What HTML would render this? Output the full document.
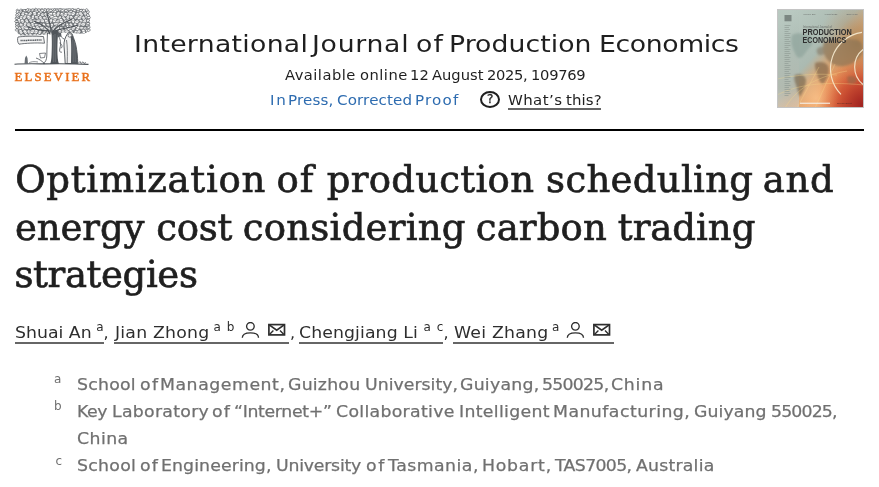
<!DOCTYPE html>
<html lang="en">
<head>
<meta charset="utf-8">
<title>Optimization of production scheduling and energy cost considering carbon trading strategies</title>
<style>
:root{--sans:"DejaVu Sans","Liberation Sans",sans-serif;--serif:"DejaVu Serif","Liberation Serif",serif}
*{margin:0;padding:0;box-sizing:border-box}
html,body{width:879px;height:487px;overflow:hidden;background:#fff}
body{position:relative;font-family:var(--sans);color:#1f1f1f}
.abs{position:absolute;white-space:nowrap}
#logo{left:12px;top:6px}
#elsevier{left:14.6px;top:70px;font-family:"Liberation Serif",serif;font-size:12.8px;color:#e9711c;letter-spacing:2.15px;line-height:14px;-webkit-text-stroke:0.5px #e9711c}
#qmark{left:480px;top:90.5px;width:20px;height:17px;border:2px solid #1f1f1f;border-radius:50%;font-size:12px;line-height:13.4px;text-align:center;text-indent:0.5px;-webkit-text-stroke:0.3px #1f1f1f}
#wu{left:508px;top:108px;width:93px;height:1.6px;background:#666}
#hr{left:15px;top:129px;width:849px;height:2px;background:#000}
.ul{top:342px;height:2px;background:#666}
.ic{top:322px}
[id^="t1_"],[id^="t2_"],[id^="t3_"]{-webkit-text-stroke:0.7px #1f1f1f}
[id^="a1_"],[id^="a2_"],[id^="a3_"],[id^="a4_"]{-webkit-text-stroke:0.25px #707070}
</style>
</head>
<body>
<svg id="logo" class="abs" viewBox="0 0 80 64" width="80" height="64"><defs><clipPath id="cc"><path d="M4.5 24 C3 19 3 13 4 8 C4.5 5 7 3.5 10 3.2 C16 2.6 24 2.8 32 2.6 C44 2.4 56 2.5 66 2.7 C72 2.8 76 4 77 8 C78 13 78 19 77 24 C76 27 72 28 67 27.5 C61 27 55 26.5 50 27 C46 27.5 43 26 40 26.5 C36 27.5 33 29 29 29 C22 29.2 14 29.5 9 29.5 C6.5 29 5 27 4.5 24 Z"/></clipPath></defs><g clip-path="url(#cc)"><path d="M4.5 24 C3 19 3 13 4 8 C4.5 5 7 3.5 10 3.2 C16 2.6 24 2.8 32 2.6 C44 2.4 56 2.5 66 2.7 C72 2.8 76 4 77 8 C78 13 78 19 77 24 C76 27 72 28 67 27.5 C61 27 55 26.5 50 27 C46 27.5 43 26 40 26.5 C36 27.5 33 29 29 29 C22 29.2 14 29.5 9 29.5 C6.5 29 5 27 4.5 24 Z" fill="#7c8085"/><g fill="#fafafa" stroke="#4a4f54" stroke-width="0.5"><ellipse cx="4.9" cy="4.7" rx="2.8" ry="1.7" transform="rotate(1 4.9 4.7)"/><path d="M3.3 4.7 L6.3 4.8" stroke-width="0.35"/><ellipse cx="8.5" cy="4.6" rx="2.6" ry="1.8" transform="rotate(-57 8.5 4.6)"/><path d="M6.9 4.6 L9.7 4.4" stroke-width="0.35"/><ellipse cx="12.2" cy="5.0" rx="2.6" ry="1.5" transform="rotate(68 12.2 5.0)"/><path d="M10.7 5.0 L13.5 5.4" stroke-width="0.35"/><ellipse cx="16.9" cy="4.7" rx="2.3" ry="1.5" transform="rotate(4 16.9 4.7)"/><path d="M15.5 4.7 L18.1 4.3" stroke-width="0.35"/><ellipse cx="20.2" cy="4.3" rx="2.2" ry="1.7" transform="rotate(-8 20.2 4.3)"/><path d="M18.8 4.3 L21.3 4.6" stroke-width="0.35"/><ellipse cx="24.5" cy="4.8" rx="2.5" ry="1.8" transform="rotate(-6 24.5 4.8)"/><path d="M23.0 4.8 L25.8 4.5" stroke-width="0.35"/><ellipse cx="29.1" cy="5.2" rx="2.7" ry="1.8" transform="rotate(-26 29.1 5.2)"/><path d="M27.5 5.2 L30.4 4.9" stroke-width="0.35"/><ellipse cx="32.0" cy="4.1" rx="2.7" ry="1.7" transform="rotate(49 32.0 4.1)"/><path d="M30.4 4.1 L33.3 4.0" stroke-width="0.35"/><ellipse cx="36.8" cy="5.0" rx="2.2" ry="1.6" transform="rotate(57 36.8 5.0)"/><path d="M35.5 5.0 L37.9 5.0" stroke-width="0.35"/><ellipse cx="40.8" cy="4.5" rx="2.2" ry="1.8" transform="rotate(39 40.8 4.5)"/><path d="M39.4 4.5 L41.9 4.2" stroke-width="0.35"/><ellipse cx="43.4" cy="4.4" rx="2.8" ry="1.8" transform="rotate(-53 43.4 4.4)"/><path d="M41.8 4.4 L44.8 4.1" stroke-width="0.35"/><ellipse cx="47.3" cy="4.1" rx="2.7" ry="1.6" transform="rotate(8 47.3 4.1)"/><path d="M45.7 4.1 L48.7 4.0" stroke-width="0.35"/><ellipse cx="51.4" cy="4.9" rx="2.3" ry="1.8" transform="rotate(-54 51.4 4.9)"/><path d="M50.0 4.9 L52.5 4.8" stroke-width="0.35"/><ellipse cx="55.3" cy="4.3" rx="2.8" ry="1.8" transform="rotate(-27 55.3 4.3)"/><path d="M53.6 4.3 L56.7 4.7" stroke-width="0.35"/><ellipse cx="59.2" cy="4.5" rx="2.7" ry="1.8" transform="rotate(-56 59.2 4.5)"/><path d="M57.6 4.5 L60.6 5.0" stroke-width="0.35"/><ellipse cx="63.1" cy="4.3" rx="2.7" ry="1.6" transform="rotate(-29 63.1 4.3)"/><path d="M61.5 4.3 L64.4 3.9" stroke-width="0.35"/><ellipse cx="66.8" cy="4.7" rx="2.3" ry="1.7" transform="rotate(-18 66.8 4.7)"/><path d="M65.4 4.7 L68.0 4.7" stroke-width="0.35"/><ellipse cx="71.9" cy="4.6" rx="2.5" ry="1.8" transform="rotate(-44 71.9 4.6)"/><path d="M70.4 4.6 L73.2 4.2" stroke-width="0.35"/><ellipse cx="75.8" cy="5.0" rx="2.3" ry="1.6" transform="rotate(34 75.8 5.0)"/><path d="M74.4 5.0 L76.9 5.4" stroke-width="0.35"/><ellipse cx="78.7" cy="5.1" rx="2.7" ry="1.7" transform="rotate(-11 78.7 5.1)"/><path d="M77.0 5.1 L80.0 4.7" stroke-width="0.35"/><ellipse cx="6.3" cy="8.7" rx="2.3" ry="1.8" transform="rotate(-34 6.3 8.7)"/><path d="M4.9 8.7 L7.5 9.0" stroke-width="0.35"/><ellipse cx="11.0" cy="7.9" rx="2.3" ry="1.8" transform="rotate(-60 11.0 7.9)"/><path d="M9.6 7.9 L12.1 7.6" stroke-width="0.35"/><ellipse cx="14.8" cy="8.6" rx="2.6" ry="1.6" transform="rotate(58 14.8 8.6)"/><path d="M13.3 8.6 L16.1 8.3" stroke-width="0.35"/><ellipse cx="18.0" cy="7.9" rx="2.5" ry="1.5" transform="rotate(-45 18.0 7.9)"/><path d="M16.5 7.9 L19.2 7.7" stroke-width="0.35"/><ellipse cx="22.7" cy="7.7" rx="2.4" ry="1.9" transform="rotate(67 22.7 7.7)"/><path d="M21.2 7.7 L23.9 7.9" stroke-width="0.35"/><ellipse cx="26.7" cy="8.3" rx="2.3" ry="1.5" transform="rotate(-67 26.7 8.3)"/><path d="M25.3 8.3 L27.9 8.7" stroke-width="0.35"/><ellipse cx="30.6" cy="8.7" rx="2.2" ry="1.8" transform="rotate(-2 30.6 8.7)"/><path d="M29.3 8.7 L31.7 8.9" stroke-width="0.35"/><ellipse cx="34.0" cy="8.7" rx="2.2" ry="1.7" transform="rotate(33 34.0 8.7)"/><path d="M32.6 8.7 L35.1 9.1" stroke-width="0.35"/><ellipse cx="38.5" cy="8.4" rx="2.7" ry="1.9" transform="rotate(-21 38.5 8.4)"/><path d="M36.9 8.4 L39.8 8.6" stroke-width="0.35"/><ellipse cx="42.6" cy="8.6" rx="2.5" ry="1.8" transform="rotate(51 42.6 8.6)"/><path d="M41.1 8.6 L43.8 8.7" stroke-width="0.35"/><ellipse cx="46.1" cy="8.0" rx="2.5" ry="1.7" transform="rotate(-59 46.1 8.0)"/><path d="M44.6 8.0 L47.4 8.1" stroke-width="0.35"/><ellipse cx="50.5" cy="8.6" rx="2.6" ry="1.7" transform="rotate(33 50.5 8.6)"/><path d="M49.0 8.6 L51.9 8.7" stroke-width="0.35"/><ellipse cx="53.7" cy="8.6" rx="2.3" ry="1.8" transform="rotate(-66 53.7 8.6)"/><path d="M52.3 8.6 L54.8 8.7" stroke-width="0.35"/><ellipse cx="57.6" cy="7.8" rx="2.6" ry="1.7" transform="rotate(16 57.6 7.8)"/><path d="M56.1 7.8 L58.9 8.2" stroke-width="0.35"/><ellipse cx="61.2" cy="7.6" rx="2.4" ry="1.8" transform="rotate(-42 61.2 7.6)"/><path d="M59.8 7.6 L62.4 7.2" stroke-width="0.35"/><ellipse cx="66.0" cy="8.3" rx="2.5" ry="1.9" transform="rotate(-24 66.0 8.3)"/><path d="M64.5 8.3 L67.3 8.5" stroke-width="0.35"/><ellipse cx="68.9" cy="8.1" rx="2.7" ry="1.9" transform="rotate(53 68.9 8.1)"/><path d="M67.3 8.1 L70.3 8.0" stroke-width="0.35"/><ellipse cx="73.4" cy="7.9" rx="2.3" ry="1.7" transform="rotate(47 73.4 7.9)"/><path d="M72.0 7.9 L74.5 8.3" stroke-width="0.35"/><ellipse cx="77.4" cy="8.7" rx="2.4" ry="1.6" transform="rotate(-7 77.4 8.7)"/><path d="M76.0 8.7 L78.6 8.5" stroke-width="0.35"/><ellipse cx="80.6" cy="8.0" rx="2.6" ry="1.7" transform="rotate(-26 80.6 8.0)"/><path d="M79.1 8.0 L81.9 8.4" stroke-width="0.35"/><ellipse cx="5.7" cy="11.6" rx="2.2" ry="1.5" transform="rotate(52 5.7 11.6)"/><path d="M4.3 11.6 L6.8 11.2" stroke-width="0.35"/><ellipse cx="9.2" cy="11.8" rx="2.4" ry="1.8" transform="rotate(-67 9.2 11.8)"/><path d="M7.8 11.8 L10.4 11.4" stroke-width="0.35"/><ellipse cx="12.7" cy="11.1" rx="2.7" ry="1.6" transform="rotate(-50 12.7 11.1)"/><path d="M11.1 11.1 L14.1 10.7" stroke-width="0.35"/><ellipse cx="16.9" cy="11.6" rx="2.6" ry="1.8" transform="rotate(43 16.9 11.6)"/><path d="M15.3 11.6 L18.2 12.1" stroke-width="0.35"/><ellipse cx="20.9" cy="11.3" rx="2.5" ry="1.6" transform="rotate(-68 20.9 11.3)"/><path d="M19.4 11.3 L22.1 11.3" stroke-width="0.35"/><ellipse cx="24.8" cy="11.3" rx="2.4" ry="1.6" transform="rotate(28 24.8 11.3)"/><path d="M23.4 11.3 L26.0 11.3" stroke-width="0.35"/><ellipse cx="28.6" cy="12.0" rx="2.4" ry="1.8" transform="rotate(57 28.6 12.0)"/><path d="M27.1 12.0 L29.8 11.6" stroke-width="0.35"/><ellipse cx="32.9" cy="12.0" rx="2.3" ry="1.7" transform="rotate(18 32.9 12.0)"/><path d="M31.5 12.0 L34.0 12.4" stroke-width="0.35"/><ellipse cx="36.0" cy="11.8" rx="2.7" ry="1.8" transform="rotate(62 36.0 11.8)"/><path d="M34.4 11.8 L37.4 11.7" stroke-width="0.35"/><ellipse cx="40.3" cy="11.3" rx="2.6" ry="1.8" transform="rotate(20 40.3 11.3)"/><path d="M38.7 11.3 L41.6 11.6" stroke-width="0.35"/><ellipse cx="43.6" cy="12.2" rx="2.8" ry="1.9" transform="rotate(5 43.6 12.2)"/><path d="M41.9 12.2 L45.0 12.5" stroke-width="0.35"/><ellipse cx="47.6" cy="12.2" rx="2.7" ry="1.6" transform="rotate(-58 47.6 12.2)"/><path d="M46.0 12.2 L49.0 12.1" stroke-width="0.35"/><ellipse cx="51.9" cy="12.0" rx="2.5" ry="1.5" transform="rotate(43 51.9 12.0)"/><path d="M50.4 12.0 L53.1 11.6" stroke-width="0.35"/><ellipse cx="56.1" cy="11.3" rx="2.4" ry="1.8" transform="rotate(-50 56.1 11.3)"/><path d="M54.7 11.3 L57.3 11.0" stroke-width="0.35"/><ellipse cx="59.6" cy="12.0" rx="2.7" ry="1.8" transform="rotate(62 59.6 12.0)"/><path d="M58.0 12.0 L61.0 12.0" stroke-width="0.35"/><ellipse cx="64.1" cy="11.2" rx="2.3" ry="1.7" transform="rotate(-29 64.1 11.2)"/><path d="M62.7 11.2 L65.3 11.4" stroke-width="0.35"/><ellipse cx="67.6" cy="11.7" rx="2.7" ry="1.7" transform="rotate(-26 67.6 11.7)"/><path d="M66.0 11.7 L68.9 11.6" stroke-width="0.35"/><ellipse cx="71.8" cy="12.2" rx="2.3" ry="1.8" transform="rotate(66 71.8 12.2)"/><path d="M70.4 12.2 L72.9 12.2" stroke-width="0.35"/><ellipse cx="75.3" cy="11.3" rx="2.5" ry="1.7" transform="rotate(15 75.3 11.3)"/><path d="M73.8 11.3 L76.6 10.9" stroke-width="0.35"/><ellipse cx="79.8" cy="11.7" rx="2.4" ry="1.8" transform="rotate(9 79.8 11.7)"/><path d="M78.3 11.7 L81.0 11.7" stroke-width="0.35"/><ellipse cx="7.2" cy="14.7" rx="2.5" ry="1.7" transform="rotate(64 7.2 14.7)"/><path d="M5.7 14.7 L8.5 15.2" stroke-width="0.35"/><ellipse cx="10.5" cy="15.2" rx="2.3" ry="1.7" transform="rotate(44 10.5 15.2)"/><path d="M9.2 15.2 L11.7 15.6" stroke-width="0.35"/><ellipse cx="14.7" cy="15.0" rx="2.3" ry="1.7" transform="rotate(60 14.7 15.0)"/><path d="M13.3 15.0 L15.9 14.7" stroke-width="0.35"/><ellipse cx="19.0" cy="14.7" rx="2.3" ry="1.6" transform="rotate(26 19.0 14.7)"/><path d="M17.7 14.7 L20.2 14.5" stroke-width="0.35"/><ellipse cx="22.3" cy="15.4" rx="2.3" ry="1.8" transform="rotate(-53 22.3 15.4)"/><path d="M21.0 15.4 L23.5 15.4" stroke-width="0.35"/><ellipse cx="26.1" cy="14.9" rx="2.5" ry="1.7" transform="rotate(-17 26.1 14.9)"/><path d="M24.6 14.9 L27.4 14.8" stroke-width="0.35"/><ellipse cx="30.4" cy="14.8" rx="2.3" ry="1.8" transform="rotate(19 30.4 14.8)"/><path d="M29.0 14.8 L31.6 14.9" stroke-width="0.35"/><ellipse cx="34.7" cy="15.4" rx="2.7" ry="1.6" transform="rotate(34 34.7 15.4)"/><path d="M33.1 15.4 L36.1 15.7" stroke-width="0.35"/><ellipse cx="38.7" cy="15.0" rx="2.4" ry="1.9" transform="rotate(-39 38.7 15.0)"/><path d="M37.3 15.0 L39.9 15.5" stroke-width="0.35"/><ellipse cx="42.6" cy="14.8" rx="2.3" ry="1.8" transform="rotate(-34 42.6 14.8)"/><path d="M41.2 14.8 L43.8 14.4" stroke-width="0.35"/><ellipse cx="46.4" cy="15.2" rx="2.7" ry="1.6" transform="rotate(-14 46.4 15.2)"/><path d="M44.8 15.2 L47.8 15.3" stroke-width="0.35"/><ellipse cx="49.2" cy="14.9" rx="2.6" ry="1.9" transform="rotate(66 49.2 14.9)"/><path d="M47.6 14.9 L50.5 14.5" stroke-width="0.35"/><ellipse cx="53.8" cy="15.6" rx="2.5" ry="1.8" transform="rotate(-44 53.8 15.6)"/><path d="M52.3 15.6 L55.0 15.1" stroke-width="0.35"/><ellipse cx="57.1" cy="14.7" rx="2.5" ry="1.7" transform="rotate(10 57.1 14.7)"/><path d="M55.6 14.7 L58.4 14.3" stroke-width="0.35"/><ellipse cx="61.1" cy="14.9" rx="2.7" ry="1.9" transform="rotate(60 61.1 14.9)"/><path d="M59.5 14.9 L62.5 14.5" stroke-width="0.35"/><ellipse cx="64.8" cy="15.8" rx="2.5" ry="1.8" transform="rotate(-24 64.8 15.8)"/><path d="M63.4 15.8 L66.1 15.8" stroke-width="0.35"/><ellipse cx="69.4" cy="15.2" rx="2.6" ry="1.5" transform="rotate(28 69.4 15.2)"/><path d="M67.8 15.2 L70.7 15.5" stroke-width="0.35"/><ellipse cx="72.8" cy="15.2" rx="2.6" ry="1.7" transform="rotate(-43 72.8 15.2)"/><path d="M71.2 15.2 L74.1 14.9" stroke-width="0.35"/><ellipse cx="77.2" cy="14.7" rx="2.7" ry="1.8" transform="rotate(29 77.2 14.7)"/><path d="M75.5 14.7 L78.5 15.0" stroke-width="0.35"/><ellipse cx="81.2" cy="15.1" rx="2.6" ry="1.7" transform="rotate(68 81.2 15.1)"/><path d="M79.7 15.1 L82.5 15.4" stroke-width="0.35"/><ellipse cx="4.7" cy="19.3" rx="2.6" ry="1.8" transform="rotate(44 4.7 19.3)"/><path d="M3.1 19.3 L6.0 19.2" stroke-width="0.35"/><ellipse cx="9.5" cy="19.3" rx="2.6" ry="1.8" transform="rotate(37 9.5 19.3)"/><path d="M7.9 19.3 L10.8 19.2" stroke-width="0.35"/><ellipse cx="13.1" cy="18.3" rx="2.4" ry="1.7" transform="rotate(-69 13.1 18.3)"/><path d="M11.7 18.3 L14.3 18.1" stroke-width="0.35"/><ellipse cx="16.9" cy="18.9" rx="2.3" ry="1.9" transform="rotate(23 16.9 18.9)"/><path d="M15.5 18.9 L18.1 18.8" stroke-width="0.35"/><ellipse cx="20.8" cy="18.9" rx="2.5" ry="1.7" transform="rotate(70 20.8 18.9)"/><path d="M19.3 18.9 L22.1 19.0" stroke-width="0.35"/><ellipse cx="24.8" cy="19.1" rx="2.8" ry="1.5" transform="rotate(16 24.8 19.1)"/><path d="M23.1 19.1 L26.2 19.4" stroke-width="0.35"/><ellipse cx="28.1" cy="18.7" rx="2.2" ry="1.6" transform="rotate(-17 28.1 18.7)"/><path d="M26.7 18.7 L29.2 18.3" stroke-width="0.35"/><ellipse cx="32.0" cy="19.3" rx="2.5" ry="1.7" transform="rotate(65 32.0 19.3)"/><path d="M30.4 19.3 L33.2 19.4" stroke-width="0.35"/><ellipse cx="36.9" cy="19.0" rx="2.7" ry="1.5" transform="rotate(14 36.9 19.0)"/><path d="M35.3 19.0 L38.2 19.2" stroke-width="0.35"/><ellipse cx="39.5" cy="19.3" rx="2.3" ry="1.7" transform="rotate(-46 39.5 19.3)"/><path d="M38.1 19.3 L40.6 19.3" stroke-width="0.35"/><ellipse cx="44.2" cy="18.3" rx="2.8" ry="1.7" transform="rotate(4 44.2 18.3)"/><path d="M42.5 18.3 L45.5 18.4" stroke-width="0.35"/><ellipse cx="47.7" cy="18.5" rx="2.6" ry="1.7" transform="rotate(-30 47.7 18.5)"/><path d="M46.2 18.5 L49.0 18.8" stroke-width="0.35"/><ellipse cx="51.5" cy="18.2" rx="2.3" ry="1.5" transform="rotate(-48 51.5 18.2)"/><path d="M50.1 18.2 L52.7 18.5" stroke-width="0.35"/><ellipse cx="55.5" cy="19.3" rx="2.6" ry="1.5" transform="rotate(68 55.5 19.3)"/><path d="M54.0 19.3 L56.9 19.7" stroke-width="0.35"/><ellipse cx="59.0" cy="19.3" rx="2.5" ry="1.7" transform="rotate(66 59.0 19.3)"/><path d="M57.5 19.3 L60.2 19.0" stroke-width="0.35"/><ellipse cx="63.5" cy="19.3" rx="2.6" ry="1.7" transform="rotate(67 63.5 19.3)"/><path d="M62.0 19.3 L64.8 19.6" stroke-width="0.35"/><ellipse cx="67.5" cy="18.3" rx="2.6" ry="1.7" transform="rotate(-41 67.5 18.3)"/><path d="M66.0 18.3 L68.8 17.9" stroke-width="0.35"/><ellipse cx="71.3" cy="18.3" rx="2.5" ry="1.8" transform="rotate(-6 71.3 18.3)"/><path d="M69.9 18.3 L72.6 18.1" stroke-width="0.35"/><ellipse cx="75.3" cy="18.7" rx="2.7" ry="1.7" transform="rotate(70 75.3 18.7)"/><path d="M73.7 18.7 L76.6 19.2" stroke-width="0.35"/><ellipse cx="79.4" cy="18.5" rx="2.3" ry="1.9" transform="rotate(40 79.4 18.5)"/><path d="M78.1 18.5 L80.6 18.6" stroke-width="0.35"/><ellipse cx="6.8" cy="22.1" rx="2.6" ry="1.7" transform="rotate(13 6.8 22.1)"/><path d="M5.2 22.1 L8.1 22.2" stroke-width="0.35"/><ellipse cx="11.2" cy="22.0" rx="2.3" ry="1.9" transform="rotate(58 11.2 22.0)"/><path d="M9.8 22.0 L12.4 22.4" stroke-width="0.35"/><ellipse cx="14.1" cy="21.8" rx="2.4" ry="1.7" transform="rotate(17 14.1 21.8)"/><path d="M12.7 21.8 L15.3 21.4" stroke-width="0.35"/><ellipse cx="18.7" cy="21.8" rx="2.3" ry="1.8" transform="rotate(7 18.7 21.8)"/><path d="M17.4 21.8 L19.8 22.0" stroke-width="0.35"/><ellipse cx="22.4" cy="22.3" rx="2.3" ry="1.6" transform="rotate(34 22.4 22.3)"/><path d="M21.0 22.3 L23.5 22.7" stroke-width="0.35"/><ellipse cx="25.9" cy="21.9" rx="2.7" ry="1.7" transform="rotate(38 25.9 21.9)"/><path d="M24.2 21.9 L27.2 21.6" stroke-width="0.35"/><ellipse cx="30.2" cy="22.1" rx="2.7" ry="1.6" transform="rotate(22 30.2 22.1)"/><path d="M28.6 22.1 L31.6 22.5" stroke-width="0.35"/><ellipse cx="34.0" cy="22.4" rx="2.6" ry="1.9" transform="rotate(-10 34.0 22.4)"/><path d="M32.4 22.4 L35.3 22.3" stroke-width="0.35"/><ellipse cx="37.6" cy="22.8" rx="2.2" ry="1.5" transform="rotate(9 37.6 22.8)"/><path d="M36.2 22.8 L38.7 22.8" stroke-width="0.35"/><ellipse cx="42.3" cy="22.1" rx="2.7" ry="1.5" transform="rotate(-40 42.3 22.1)"/><path d="M40.7 22.1 L43.6 22.3" stroke-width="0.35"/><ellipse cx="45.4" cy="22.1" rx="2.6" ry="1.8" transform="rotate(-30 45.4 22.1)"/><path d="M43.8 22.1 L46.7 21.8" stroke-width="0.35"/><ellipse cx="49.7" cy="22.6" rx="2.4" ry="1.5" transform="rotate(29 49.7 22.6)"/><path d="M48.2 22.6 L50.9 22.7" stroke-width="0.35"/><ellipse cx="54.3" cy="22.9" rx="2.7" ry="1.7" transform="rotate(42 54.3 22.9)"/><path d="M52.7 22.9 L55.7 22.7" stroke-width="0.35"/><ellipse cx="57.4" cy="22.2" rx="2.8" ry="1.9" transform="rotate(-35 57.4 22.2)"/><path d="M55.7 22.2 L58.8 22.1" stroke-width="0.35"/><ellipse cx="61.4" cy="22.2" rx="2.4" ry="1.7" transform="rotate(-43 61.4 22.2)"/><path d="M59.9 22.2 L62.6 22.2" stroke-width="0.35"/><ellipse cx="65.9" cy="22.4" rx="2.7" ry="1.7" transform="rotate(-45 65.9 22.4)"/><path d="M64.2 22.4 L67.2 22.7" stroke-width="0.35"/><ellipse cx="69.9" cy="22.1" rx="2.2" ry="1.7" transform="rotate(6 69.9 22.1)"/><path d="M68.6 22.1 L71.0 22.2" stroke-width="0.35"/><ellipse cx="73.9" cy="22.5" rx="2.7" ry="1.5" transform="rotate(7 73.9 22.5)"/><path d="M72.3 22.5 L75.2 22.8" stroke-width="0.35"/><ellipse cx="76.6" cy="21.8" rx="2.6" ry="1.9" transform="rotate(-58 76.6 21.8)"/><path d="M75.0 21.8 L77.9 22.0" stroke-width="0.35"/><ellipse cx="80.6" cy="22.6" rx="2.6" ry="1.6" transform="rotate(-39 80.6 22.6)"/><path d="M79.0 22.6 L81.8 22.9" stroke-width="0.35"/><ellipse cx="5.0" cy="26.2" rx="2.4" ry="1.6" transform="rotate(66 5.0 26.2)"/><path d="M3.6 26.2 L6.2 26.4" stroke-width="0.35"/><ellipse cx="8.9" cy="25.9" rx="2.6" ry="1.8" transform="rotate(58 8.9 25.9)"/><path d="M7.3 25.9 L10.2 25.9" stroke-width="0.35"/><ellipse cx="13.3" cy="26.1" rx="2.7" ry="1.8" transform="rotate(47 13.3 26.1)"/><path d="M11.6 26.1 L14.6 26.5" stroke-width="0.35"/><ellipse cx="17.3" cy="26.1" rx="2.5" ry="1.8" transform="rotate(42 17.3 26.1)"/><path d="M15.8 26.1 L18.6 26.0" stroke-width="0.35"/><ellipse cx="20.5" cy="25.5" rx="2.6" ry="1.9" transform="rotate(-17 20.5 25.5)"/><path d="M18.9 25.5 L21.8 25.1" stroke-width="0.35"/><ellipse cx="24.1" cy="25.8" rx="2.4" ry="1.9" transform="rotate(-62 24.1 25.8)"/><path d="M22.7 25.8 L25.3 25.6" stroke-width="0.35"/><ellipse cx="27.9" cy="26.1" rx="2.7" ry="1.6" transform="rotate(-61 27.9 26.1)"/><path d="M26.3 26.1 L29.2 26.0" stroke-width="0.35"/><ellipse cx="32.4" cy="26.4" rx="2.2" ry="1.5" transform="rotate(-44 32.4 26.4)"/><path d="M31.1 26.4 L33.5 26.1" stroke-width="0.35"/><ellipse cx="35.8" cy="26.2" rx="2.6" ry="1.6" transform="rotate(-44 35.8 26.2)"/><path d="M34.3 26.2 L37.1 25.9" stroke-width="0.35"/><ellipse cx="39.6" cy="26.2" rx="2.4" ry="1.7" transform="rotate(44 39.6 26.2)"/><path d="M38.2 26.2 L40.8 26.2" stroke-width="0.35"/><ellipse cx="43.7" cy="26.4" rx="2.7" ry="1.6" transform="rotate(7 43.7 26.4)"/><path d="M42.0 26.4 L45.0 26.8" stroke-width="0.35"/><ellipse cx="47.9" cy="25.6" rx="2.2" ry="1.9" transform="rotate(42 47.9 25.6)"/><path d="M46.5 25.6 L49.0 25.5" stroke-width="0.35"/><ellipse cx="51.8" cy="25.9" rx="2.4" ry="1.9" transform="rotate(22 51.8 25.9)"/><path d="M50.4 25.9 L53.0 25.7" stroke-width="0.35"/><ellipse cx="55.0" cy="25.9" rx="2.4" ry="1.8" transform="rotate(30 55.0 25.9)"/><path d="M53.6 25.9 L56.2 26.0" stroke-width="0.35"/><ellipse cx="59.1" cy="25.5" rx="2.4" ry="1.6" transform="rotate(52 59.1 25.5)"/><path d="M57.7 25.5 L60.3 25.5" stroke-width="0.35"/><ellipse cx="63.7" cy="26.5" rx="2.4" ry="1.7" transform="rotate(-49 63.7 26.5)"/><path d="M62.3 26.5 L64.9 26.8" stroke-width="0.35"/><ellipse cx="66.7" cy="26.3" rx="2.7" ry="1.8" transform="rotate(-58 66.7 26.3)"/><path d="M65.1 26.3 L68.1 26.1" stroke-width="0.35"/><ellipse cx="71.6" cy="25.4" rx="2.5" ry="1.7" transform="rotate(64 71.6 25.4)"/><path d="M70.1 25.4 L72.8 25.5" stroke-width="0.35"/><ellipse cx="75.7" cy="25.7" rx="2.7" ry="1.7" transform="rotate(58 75.7 25.7)"/><path d="M74.1 25.7 L77.0 25.3" stroke-width="0.35"/><ellipse cx="79.6" cy="25.6" rx="2.5" ry="1.7" transform="rotate(-48 79.6 25.6)"/><path d="M78.0 25.6 L80.8 25.9" stroke-width="0.35"/><ellipse cx="6.7" cy="29.2" rx="2.2" ry="1.6" transform="rotate(-5 6.7 29.2)"/><path d="M5.3 29.2 L7.8 29.4" stroke-width="0.35"/><ellipse cx="10.7" cy="29.7" rx="2.3" ry="1.7" transform="rotate(-5 10.7 29.7)"/><path d="M9.3 29.7 L11.8 30.1" stroke-width="0.35"/><ellipse cx="15.2" cy="29.6" rx="2.2" ry="1.7" transform="rotate(29 15.2 29.6)"/><path d="M13.9 29.6 L16.3 29.4" stroke-width="0.35"/><ellipse cx="18.7" cy="29.4" rx="2.2" ry="1.9" transform="rotate(42 18.7 29.4)"/><path d="M17.4 29.4 L19.8 29.1" stroke-width="0.35"/><ellipse cx="22.7" cy="29.2" rx="2.4" ry="1.7" transform="rotate(-28 22.7 29.2)"/><path d="M21.3 29.2 L23.9 29.0" stroke-width="0.35"/><ellipse cx="26.3" cy="29.7" rx="2.4" ry="1.6" transform="rotate(32 26.3 29.7)"/><path d="M24.9 29.7 L27.5 29.5" stroke-width="0.35"/><ellipse cx="31.0" cy="29.5" rx="2.6" ry="1.6" transform="rotate(46 31.0 29.5)"/><path d="M29.4 29.5 L32.3 29.1" stroke-width="0.35"/><ellipse cx="33.7" cy="29.0" rx="2.6" ry="1.8" transform="rotate(-45 33.7 29.0)"/><path d="M32.2 29.0 L35.1 28.9" stroke-width="0.35"/><ellipse cx="38.6" cy="29.6" rx="2.3" ry="1.6" transform="rotate(-48 38.6 29.6)"/><path d="M37.3 29.6 L39.7 29.2" stroke-width="0.35"/><ellipse cx="41.9" cy="28.9" rx="2.8" ry="1.7" transform="rotate(2 41.9 28.9)"/><path d="M40.3 28.9 L43.3 29.1" stroke-width="0.35"/><ellipse cx="46.3" cy="29.8" rx="2.4" ry="1.6" transform="rotate(-12 46.3 29.8)"/><path d="M44.9 29.8 L47.5 29.4" stroke-width="0.35"/><ellipse cx="49.7" cy="29.7" rx="2.8" ry="1.8" transform="rotate(22 49.7 29.7)"/><path d="M48.0 29.7 L51.1 29.8" stroke-width="0.35"/><ellipse cx="53.1" cy="29.2" rx="2.4" ry="1.8" transform="rotate(-55 53.1 29.2)"/><path d="M51.6 29.2 L54.3 29.1" stroke-width="0.35"/><ellipse cx="57.7" cy="29.8" rx="2.7" ry="1.7" transform="rotate(-48 57.7 29.8)"/><path d="M56.0 29.8 L59.0 30.1" stroke-width="0.35"/><ellipse cx="62.1" cy="29.5" rx="2.4" ry="1.7" transform="rotate(-50 62.1 29.5)"/><path d="M60.7 29.5 L63.3 29.7" stroke-width="0.35"/><ellipse cx="66.1" cy="29.5" rx="2.6" ry="1.8" transform="rotate(-42 66.1 29.5)"/><path d="M64.6 29.5 L67.4 29.9" stroke-width="0.35"/><ellipse cx="69.5" cy="29.1" rx="2.2" ry="1.6" transform="rotate(11 69.5 29.1)"/><path d="M68.2 29.1 L70.7 29.3" stroke-width="0.35"/><ellipse cx="73.0" cy="30.0" rx="2.4" ry="1.7" transform="rotate(-53 73.0 30.0)"/><path d="M71.6 30.0 L74.2 30.4" stroke-width="0.35"/><ellipse cx="76.6" cy="29.9" rx="2.5" ry="1.7" transform="rotate(8 76.6 29.9)"/><path d="M75.1 29.9 L77.9 29.7" stroke-width="0.35"/><ellipse cx="81.6" cy="30.0" rx="2.7" ry="1.7" transform="rotate(-53 81.6 30.0)"/><path d="M80.0 30.0 L83.0 30.4" stroke-width="0.35"/></g></g><g fill="#fafafa" stroke="#4a4f54" stroke-width="0.55"><ellipse cx="5.7" cy="4.5" rx="1.5" ry="1.1" transform="rotate(33 5.7 4.5)"/><ellipse cx="8.6" cy="4.1" rx="1.4" ry="0.9" transform="rotate(-32 8.6 4.1)"/><ellipse cx="12.6" cy="4.5" rx="1.7" ry="1.0" transform="rotate(17 12.6 4.5)"/><ellipse cx="15.3" cy="4.0" rx="1.7" ry="1.1" transform="rotate(-48 15.3 4.0)"/><ellipse cx="17.6" cy="4.1" rx="1.5" ry="1.0" transform="rotate(7 17.6 4.1)"/><ellipse cx="20.6" cy="4.1" rx="1.5" ry="1.1" transform="rotate(-17 20.6 4.1)"/><ellipse cx="24.2" cy="3.6" rx="1.7" ry="0.9" transform="rotate(46 24.2 3.6)"/><ellipse cx="27.1" cy="4.1" rx="1.6" ry="1.1" transform="rotate(19 27.1 4.1)"/><ellipse cx="30.3" cy="4.4" rx="1.6" ry="1.2" transform="rotate(34 30.3 4.4)"/><ellipse cx="33.4" cy="4.0" rx="1.6" ry="1.1" transform="rotate(41 33.4 4.0)"/><ellipse cx="36.0" cy="4.1" rx="1.6" ry="1.2" transform="rotate(-18 36.0 4.1)"/><ellipse cx="38.5" cy="4.3" rx="1.9" ry="1.1" transform="rotate(10 38.5 4.3)"/><ellipse cx="42.3" cy="3.9" rx="1.7" ry="0.9" transform="rotate(-38 42.3 3.9)"/><ellipse cx="44.9" cy="4.1" rx="1.6" ry="0.9" transform="rotate(19 44.9 4.1)"/><ellipse cx="48.0" cy="3.8" rx="1.6" ry="1.0" transform="rotate(-26 48.0 3.8)"/><ellipse cx="50.5" cy="4.5" rx="1.9" ry="1.1" transform="rotate(37 50.5 4.5)"/><ellipse cx="53.9" cy="4.4" rx="1.5" ry="1.1" transform="rotate(7 53.9 4.4)"/><ellipse cx="57.5" cy="3.7" rx="1.8" ry="0.9" transform="rotate(4 57.5 3.7)"/><ellipse cx="60.5" cy="3.6" rx="1.5" ry="1.0" transform="rotate(-18 60.5 3.6)"/><ellipse cx="62.5" cy="4.5" rx="1.8" ry="1.0" transform="rotate(-14 62.5 4.5)"/><ellipse cx="66.1" cy="3.6" rx="1.4" ry="1.2" transform="rotate(-19 66.1 3.6)"/><ellipse cx="69.0" cy="4.5" rx="1.9" ry="1.0" transform="rotate(-29 69.0 4.5)"/><ellipse cx="71.8" cy="4.5" rx="1.8" ry="1.0" transform="rotate(34 71.8 4.5)"/><ellipse cx="74.8" cy="4.1" rx="1.5" ry="1.2" transform="rotate(50 74.8 4.1)"/><ellipse cx="76.0" cy="6.1" rx="1.5" ry="1.2" transform="rotate(-45 76.0 6.1)"/><ellipse cx="75.9" cy="9.2" rx="1.6" ry="1.2" transform="rotate(37 75.9 9.2)"/><ellipse cx="76.7" cy="11.6" rx="1.7" ry="1.2" transform="rotate(-5 76.7 11.6)"/><ellipse cx="75.9" cy="14.7" rx="1.6" ry="1.1" transform="rotate(-30 75.9 14.7)"/><ellipse cx="76.0" cy="17.7" rx="1.7" ry="1.1" transform="rotate(-13 76.0 17.7)"/><ellipse cx="76.6" cy="21.4" rx="1.7" ry="1.0" transform="rotate(-20 76.6 21.4)"/><ellipse cx="76.9" cy="24.2" rx="1.5" ry="1.1" transform="rotate(-41 76.9 24.2)"/><ellipse cx="5.5" cy="5.9" rx="1.7" ry="1.1" transform="rotate(-45 5.5 5.9)"/><ellipse cx="5.0" cy="8.8" rx="1.5" ry="1.1" transform="rotate(-41 5.0 8.8)"/><ellipse cx="4.6" cy="12.3" rx="1.5" ry="1.0" transform="rotate(5 4.6 12.3)"/><ellipse cx="4.5" cy="15.4" rx="1.9" ry="0.9" transform="rotate(-4 4.5 15.4)"/><ellipse cx="5.2" cy="17.9" rx="1.9" ry="1.0" transform="rotate(-32 5.2 17.9)"/><ellipse cx="5.0" cy="21.1" rx="1.6" ry="1.1" transform="rotate(28 5.0 21.1)"/><ellipse cx="4.9" cy="24.0" rx="1.8" ry="1.1" transform="rotate(2 4.9 24.0)"/></g><g fill="none" stroke="#4a4f54" stroke-width="1.1" stroke-linecap="round"><path d="M38 28 C36 22 30 18 22 15"/><path d="M40 27 C44 20 52 17 60 13"/><path d="M39 26 C39 20 37 14 35 8"/><path d="M43 25 C50 22 58 22 66 19"/><path d="M37 25 C31 25 25 24 16 21"/></g><path d="M6 31 C11 30.3 22 29.8 31.5 30.6 L32.5 37.2 C24 36.6 13 37.2 7 38.2 C5.3 36 5.2 33 6 31 Z" fill="#f4f4f4" stroke="#4a4f54" stroke-width="0.8"/><path d="M8.5 34.6 L30 33.9" stroke="#5a5f64" stroke-width="1.5" stroke-dasharray="1.3 0.5"/><path d="M35.5 27 C35.2 33 35 42 34.8 50 C34.6 54 33.5 56 31 58" fill="none" stroke="#4a4f54" stroke-width="0.8"/><path d="M39.2 24.5 C40 30 40 40 39.6 48 C39.4 53 39 56 38.2 58 L47 58 C45.8 55 45.4 50 45.4 44 C45.5 36 45.6 30 46.5 25 Z" fill="#50555a"/><path d="M41.2 29 L41.4 56 M43 28 L43.3 56" stroke="#8a8f94" stroke-width="0.45"/><path d="M35.5 27 C37 27.5 38.5 26 39.2 24.5" fill="none" stroke="#4e5358" stroke-width="0.8"/><g fill="none" stroke="#4a4f54" stroke-width="0.8"><path d="M46 30 C49 33 49 38 48 42 C47 45 48 47 50 46"/><path d="M47.5 37 C50 38 51 41 48.8 42.5"/><path d="M54 34 C51.5 33 49.5 31.5 48 29"/></g><path d="M45.5 26.5 L49 26.5 L49.5 30.5 L46 31 Z" fill="#5a5f64"/><path d="M56 27 C58 25.8 60.3 26.8 60.6 29.3 C61.5 32 62.8 35 63.8 39 C65 45 65.6 51 65.8 57.5 L53.2 57.5 C53 52 52.5 46 52 40 C51.6 36 53 31 56 27 Z" fill="#f2f2f2" stroke="#4a4f54" stroke-width="0.9"/><path d="M58.6 30.5 C59.4 36 59.3 45 59 57.5 L65.8 57.5 C65.6 51 65 45 63.8 39 C62.8 35 61.5 32 60.6 29.3 Z" fill="#53585d"/><path d="M60.8 34 L61.3 56 M62.6 36 L63.3 56" stroke="#8a8f94" stroke-width="0.4"/><path d="M54.5 34 C55.5 40 55.5 48 55.2 57" fill="none" stroke="#4a4f54" stroke-width="0.7"/><circle cx="57.8" cy="29.4" r="1.8" fill="#f2f2f2" stroke="#4a4f54" stroke-width="0.7"/><path d="M2.5 58.2 C12 57.6 22 57.8 32 57.9 C46 57.7 60 57.6 76.5 58.4" fill="none" stroke="#4a4f54" stroke-width="1.1"/><path d="M33 58 C30 55 27 53 24 52" fill="none" stroke="#4a4f54" stroke-width="0.8"/><path d="M12.5 58 L13 52 L14.3 49.5 L15.5 52 L16 58 Z" fill="#6a6f74"/><path d="M17 57 C19 55.5 22 55.3 26 56" fill="none" stroke="#4a4f54" stroke-width="0.6"/><path d="M27.5 47.5 L33.5 47 L32.5 51.5 L28.5 52 Z" fill="#fff" stroke="#4a4f54" stroke-width="0.7"/><path d="M66 57.5 L68 55.5 L69 57.5 L71 55.8 L72 57.5 L74 56.5" fill="none" stroke="#4a4f54" stroke-width="0.7"/></svg>
<div id="elsevier" class="abs">ELSEVIER</div>
<div id="qmark" class="abs">?</div>
<div id="wu" class="abs"></div>
<div id="cover" class="abs" style="left:777px;top:9px;width:87px;height:99px"><svg width="87" height="99" viewBox="0 0 87 99" style="position:absolute;left:0;top:0">
<defs>
<linearGradient id="cg" x1="0.05" y1="0.15" x2="0.85" y2="1"><stop offset="0" stop-color="#b9c9c1"/><stop offset="0.42" stop-color="#abbab1"/><stop offset="0.55" stop-color="#cfa77c"/><stop offset="0.7" stop-color="#eb9a5d"/><stop offset="0.86" stop-color="#e27a45"/><stop offset="1" stop-color="#c24a30"/></linearGradient>
<radialGradient id="cr" cx="0.97" cy="0.97" r="0.5">
<stop offset="0" stop-color="#a02420" stop-opacity="1"/><stop offset="0.55" stop-color="#c8442e" stop-opacity="0.65"/><stop offset="1" stop-color="#e07040" stop-opacity="0"/>
</radialGradient>
<radialGradient id="ct" cx="0.92" cy="0.35" r="0.45">
<stop offset="0" stop-color="#a8804f" stop-opacity="0.9"/><stop offset="1" stop-color="#c8a07a" stop-opacity="0"/>
</radialGradient>
<radialGradient id="cl" cx="0.45" cy="0.9" r="0.3">
<stop offset="0" stop-color="#f8c48e" stop-opacity="0.8"/><stop offset="1" stop-color="#f8c48e" stop-opacity="0"/>
</radialGradient>
<linearGradient id="cvlb" x1="0" y1="0" x2="0" y2="1"><stop offset="0" stop-color="#b5c4bc" stop-opacity="0"/><stop offset="0.35" stop-color="#aebdb5" stop-opacity="0.7"/><stop offset="0.8" stop-color="#b4bab0" stop-opacity="0.75"/><stop offset="1" stop-color="#d8cdbf" stop-opacity="0.6"/></linearGradient>
<filter id="bl" x="-20%" y="-20%" width="140%" height="140%"><feGaussianBlur stdDeviation="1.0"/></filter>
<filter id="bl2" x="-20%" y="-20%" width="140%" height="140%"><feGaussianBlur stdDeviation="0.35"/></filter>
</defs>
<rect width="87" height="99" fill="url(#cg)"/>
<rect width="87" height="99" fill="url(#ct)"/>
<rect width="87" height="99" fill="url(#cl)"/>
<rect width="87" height="99" fill="url(#cr)"/>
<rect x="0" y="0" width="22" height="99" fill="url(#cvlb)"/>
<g filter="url(#bl)" opacity="0.7">
<path d="M15 26 C20 23 27 24 33 27 C37 30 36 35 33 38 C30 41 28 45 25 48 C22 50 19 48 18 44 C16 40 13 34 15 26 Z" fill="#8fa49c"/>
<path d="M30 20 C33 19 37 20 38 23 C36 26 32 26 30 24 Z" fill="#9aaba4"/>
<path d="M18 66 C23 64 28 66 29 71 C29 77 26 83 23 88 C21 84 20 78 18 73 C17 70 17 68 18 66 Z" fill="#7e6b50"/>
<path d="M38 54 C43 52 49 53 51 57 C53 62 51 68 48 73 C46 76 44 75 42 71 C40 66 39 61 38 58 Z" fill="#86694b"/>
<path d="M40 40 C43 37 47 37 49 40 C49 44 46 47 42 46 C40 45 39 42 40 40 Z" fill="#8a8270"/>
<path d="M47 33 C56 29 68 29 80 31 C86 33 87 40 84 46 C80 52 74 56 67 57 C60 58 54 55 50 50 C46 45 45 38 47 33 Z" fill="#8f7656"/>
<path d="M70 68 C74 66 79 67 80 71 C79 75 74 76 71 74 Z" fill="#9a6a48"/>
</g>
<g fill="none" stroke="#f7ecd2" stroke-width="1.15" opacity="0.9" filter="url(#bl2)">
<path d="M85 23.4 A36.6 36.6 0 0 0 64 85.3"/>
<path d="M86 40.5 A22.5 22.5 0 0 0 86 75.5"/>
</g>
<g fill="none" stroke="#f6d98c" stroke-width="0.6" opacity="0.55" filter="url(#bl2)">
<path d="M8 99 C18 82 36 68 70 62"/>
<path d="M0 86 C20 76 44 72 87 76"/>
<path d="M38 99 L58 55"/>
<path d="M20 99 L42 58"/>
<path d="M0 70 C20 66 40 64 60 66"/>
</g>
<g fill="#8a9690" opacity="0.8">
<rect x="7.5" y="6" width="7" height="6.3" fill="#6d7773"/>
<rect x="7.5" y="16" width="6" height="0.7"/><rect x="7.5" y="18" width="4.5" height="0.7"/><rect x="7.5" y="20" width="5.5" height="0.7"/><rect x="7.5" y="22" width="4" height="0.7"/><rect x="7.5" y="24" width="6" height="0.7"/><rect x="7.5" y="26" width="5" height="0.7"/><rect x="7.5" y="28" width="6" height="0.7"/><rect x="7.5" y="30" width="4.5" height="0.7"/><rect x="7.5" y="32" width="6" height="0.7"/><rect x="7.5" y="34" width="5" height="0.7"/><rect x="7.5" y="36" width="6" height="0.7"/><rect x="7.5" y="38" width="4" height="0.7"/><rect x="7.5" y="40" width="6" height="0.7"/><rect x="7.5" y="42" width="5" height="0.7"/><rect x="7.5" y="44" width="6" height="0.7"/><rect x="7.5" y="46" width="4.5" height="0.7"/><rect x="7.5" y="48" width="6" height="0.7"/><rect x="7.5" y="50" width="5" height="0.7"/><rect x="7.5" y="52" width="6" height="0.7"/><rect x="7.5" y="54" width="4" height="0.7"/><rect x="7.5" y="56" width="6" height="0.7"/><rect x="7.5" y="58" width="5" height="0.7"/><rect x="7.5" y="60" width="6" height="0.7"/><rect x="7.5" y="62" width="4.5" height="0.7"/><rect x="7.5" y="64" width="6" height="0.7"/><rect x="7.5" y="66" width="5" height="0.7"/><rect x="7.5" y="68" width="6" height="0.7"/><rect x="7.5" y="70" width="4" height="0.7"/><rect x="7.5" y="72" width="6" height="0.7"/><rect x="7.5" y="74" width="5" height="0.7"/><rect x="7.5" y="76" width="6" height="0.7"/><rect x="7.5" y="78" width="4.5" height="0.7"/><rect x="7.5" y="80" width="6" height="0.7"/><rect x="7.5" y="82" width="5" height="0.7"/><rect x="7.5" y="84" width="6" height="0.7"/><rect x="7.5" y="86" width="4" height="0.7"/>
</g>
<g font-family="Liberation Sans, sans-serif" fill="#6b6f6c" font-size="2.4">
<text x="26" y="6.2">Volume 287</text><text x="47" y="6.2">August 2025</text><text x="69" y="6.2">ISSN 0925</text>
<text x="26" y="18.6" font-size="3" textLength="29" lengthAdjust="spacingAndGlyphs">International Journal of</text>
</g>
<g font-family="Liberation Sans, sans-serif" font-weight="bold" fill="#2f2f2f">
<text x="25.6" y="26" font-size="8.2" textLength="49.2" lengthAdjust="spacingAndGlyphs">PRODUCTION</text>
<text x="25.6" y="33.8" font-size="8.2" textLength="43.7" lengthAdjust="spacingAndGlyphs">ECONOMICS</text>
</g>
<g font-family="Liberation Sans, sans-serif" font-size="2.2">
<rect x="23" y="93.6" width="30" height="1.4" fill="#f5efe6" opacity="0.8"/>
<text x="60" y="95.2" fill="#5a2a20" textLength="15" lengthAdjust="spacingAndGlyphs">ScienceDirect</text>
</g>
<rect x="0.5" y="0.5" width="86" height="98" fill="none" stroke="#c4c4c4" stroke-width="1"/>
</svg>
</div>
<div id="hr" class="abs"></div>
<svg id="p1" class="abs ic" style="left:241px" width="19" height="17" viewBox="0 0 19 17"><g fill="none" stroke="#2e2e2e" stroke-width="1.35"><circle cx="9.4" cy="4.3" r="3.8"/><path d="M1.3 15.8 C1.3 12 4.6 10.8 9.4 10.8 C14.2 10.8 17.5 12 17.5 15.8"/></g></svg>
<svg id="e1" class="abs ic" style="left:267px" width="19" height="15" viewBox="0 0 19 15"><g fill="none" stroke="#2e2e2e" stroke-width="1.7"><rect x="1.9" y="2.6" width="15.6" height="10.3"/><path d="M1.9 2.6 L9.7 8.2 L17.5 2.6"/><path d="M2.5 12.4 L6.4 8.6 M16.9 12.4 L13 8.6" stroke-width="1.4"/></g></svg>
<svg id="p2" class="abs ic" style="left:566px" width="19" height="17" viewBox="0 0 19 17"><g fill="none" stroke="#2e2e2e" stroke-width="1.35"><circle cx="9.4" cy="4.3" r="3.8"/><path d="M1.3 15.8 C1.3 12 4.6 10.8 9.4 10.8 C14.2 10.8 17.5 12 17.5 15.8"/></g></svg>
<svg id="e2" class="abs ic" style="left:592px" width="19" height="15" viewBox="0 0 19 15"><g fill="none" stroke="#2e2e2e" stroke-width="1.7"><rect x="1.9" y="2.6" width="15.6" height="10.3"/><path d="M1.9 2.6 L9.7 8.2 L17.5 2.6"/><path d="M2.5 12.4 L6.4 8.6 M16.9 12.4 L13 8.6" stroke-width="1.4"/></g></svg>
<div id="u1" class="abs ul" style="left:15px;width:89px"></div>
<div id="u2" class="abs ul" style="left:114px;width:175px"></div>
<div id="u3" class="abs ul" style="left:299px;width:144px"></div>
<div id="u4" class="abs ul" style="left:453px;width:161px"></div>
<div id="jt_0" class="abs" style="left:133.70px;top:30.01px;font-family:var(--sans);font-size:23px;line-height:28px;color:#1f1f1f;letter-spacing:0.262px;transform:scaleX(1.16);transform-origin:0 0;">International</div>
<div id="jt_1" class="abs" style="left:312.20px;top:30.01px;font-family:var(--sans);font-size:23px;line-height:28px;color:#1f1f1f;letter-spacing:0.620px;transform:scaleX(1.16);transform-origin:0 0;">Journal</div>
<div id="jt_2" class="abs" style="left:415.70px;top:30.01px;font-family:var(--sans);font-size:23px;line-height:28px;color:#1f1f1f;letter-spacing:0.954px;transform:scaleX(1.16);transform-origin:0 0;">of</div>
<div id="jt_3" class="abs" style="left:448.60px;top:30.01px;font-family:var(--sans);font-size:23px;line-height:28px;color:#1f1f1f;letter-spacing:0.046px;transform:scaleX(1.16);transform-origin:0 0;">Production</div>
<div id="jt_4" class="abs" style="left:598.70px;top:30.01px;font-family:var(--sans);font-size:23px;line-height:28px;color:#1f1f1f;letter-spacing:-0.331px;transform:scaleX(1.16);transform-origin:0 0;">Economics</div>
<div id="av_0" class="abs" style="left:285.40px;top:66.00px;font-family:var(--sans);font-size:14px;line-height:18px;color:#1f1f1f;letter-spacing:0.449px;transform:scaleX(1.05);transform-origin:0 0;">Available</div>
<div id="av_1" class="abs" style="left:360.00px;top:66.00px;font-family:var(--sans);font-size:14px;line-height:18px;color:#1f1f1f;letter-spacing:0.465px;transform:scaleX(1.05);transform-origin:0 0;">online</div>
<div id="av_2" class="abs" style="left:409.50px;top:66.00px;font-family:var(--sans);font-size:14px;line-height:18px;color:#1f1f1f;letter-spacing:0.231px;transform:scaleX(1.05);transform-origin:0 0;">12</div>
<div id="av_3" class="abs" style="left:431.90px;top:66.00px;font-family:var(--sans);font-size:14px;line-height:18px;color:#1f1f1f;letter-spacing:-0.002px;transform:scaleX(1.05);transform-origin:0 0;">August</div>
<div id="av_4" class="abs" style="left:487.40px;top:66.00px;font-family:var(--sans);font-size:14px;line-height:18px;color:#1f1f1f;letter-spacing:-0.353px;transform:scaleX(1.05);transform-origin:0 0;">2025,</div>
<div id="av_5" class="abs" style="left:530.50px;top:66.00px;font-family:var(--sans);font-size:14px;line-height:18px;color:#1f1f1f;letter-spacing:-0.276px;transform:scaleX(1.05);transform-origin:0 0;">109769</div>
<div id="ip_0" class="abs" style="left:269.80px;top:91.00px;font-family:var(--sans);font-size:14px;line-height:18px;color:#2e6cb0;letter-spacing:1.611px;transform:scaleX(1.08);transform-origin:0 0;">In</div>
<div id="ip_1" class="abs" style="left:288.00px;top:91.00px;font-family:var(--sans);font-size:14px;line-height:18px;color:#2e6cb0;letter-spacing:0.126px;transform:scaleX(1.08);transform-origin:0 0;">Press,</div>
<div id="ip_2" class="abs" style="left:336.90px;top:91.00px;font-family:var(--sans);font-size:14px;line-height:18px;color:#2e6cb0;letter-spacing:0.113px;transform:scaleX(1.08);transform-origin:0 0;">Corrected</div>
<div id="ip_3" class="abs" style="left:415.00px;top:91.00px;font-family:var(--sans);font-size:14px;line-height:18px;color:#2e6cb0;letter-spacing:1.076px;transform:scaleX(1.08);transform-origin:0 0;">Proof</div>
<div id="wt_0" class="abs" style="left:507.50px;top:91.00px;font-family:var(--sans);font-size:14px;line-height:18px;color:#1f1f1f;letter-spacing:0.381px;transform:scaleX(1.07);transform-origin:0 0;">What’s</div>
<div id="wt_1" class="abs" style="left:565.90px;top:91.00px;font-family:var(--sans);font-size:14px;line-height:18px;color:#1f1f1f;letter-spacing:0.095px;transform:scaleX(1.07);transform-origin:0 0;">this?</div>
<div id="t1_0" class="abs" style="left:15.20px;top:157.01px;font-family:var(--serif);font-size:37px;line-height:46px;color:#1f1f1f;letter-spacing:0.745px;">Optimization</div>
<div id="t1_1" class="abs" style="left:276.40px;top:157.01px;font-family:var(--serif);font-size:37px;line-height:46px;color:#1f1f1f;letter-spacing:1.200px;">of</div>
<div id="t1_2" class="abs" style="left:326.70px;top:157.01px;font-family:var(--serif);font-size:37px;line-height:46px;color:#1f1f1f;letter-spacing:0.289px;">production</div>
<div id="t1_3" class="abs" style="left:546.10px;top:157.01px;font-family:var(--serif);font-size:37px;line-height:46px;color:#1f1f1f;letter-spacing:0.311px;">scheduling</div>
<div id="t1_4" class="abs" style="left:762.80px;top:157.01px;font-family:var(--serif);font-size:37px;line-height:46px;color:#1f1f1f;letter-spacing:0.700px;">and</div>
<div id="t2_0" class="abs" style="left:14.90px;top:205.01px;font-family:var(--serif);font-size:37px;line-height:46px;color:#1f1f1f;letter-spacing:-0.054px;">energy</div>
<div id="t2_1" class="abs" style="left:156.20px;top:205.01px;font-family:var(--serif);font-size:37px;line-height:46px;color:#1f1f1f;letter-spacing:-0.254px;">cost</div>
<div id="t2_2" class="abs" style="left:242.80px;top:205.01px;font-family:var(--serif);font-size:37px;line-height:46px;color:#1f1f1f;letter-spacing:0.246px;">considering</div>
<div id="t2_3" class="abs" style="left:475.80px;top:205.01px;font-family:var(--serif);font-size:37px;line-height:46px;color:#1f1f1f;letter-spacing:0.146px;">carbon</div>
<div id="t2_4" class="abs" style="left:617.80px;top:205.01px;font-family:var(--serif);font-size:37px;line-height:46px;color:#1f1f1f;letter-spacing:-0.021px;">trading</div>
<div id="t3_0" class="abs" style="left:14.50px;top:252.01px;font-family:var(--serif);font-size:37px;line-height:46px;color:#1f1f1f;letter-spacing:-0.378px;">strategies</div>
<div id="n1" class="abs" style="left:14.80px;top:323.01px;font-family:var(--sans);font-size:16px;line-height:20px;color:#2e2e2e;letter-spacing:0.016px;transform:scaleX(1.08);transform-origin:0 0;">Shuai An</div>
<div id="n2" class="abs" style="left:115.20px;top:323.01px;font-family:var(--sans);font-size:16px;line-height:20px;color:#2e2e2e;letter-spacing:0.204px;transform:scaleX(1.08);transform-origin:0 0;">Jian Zhong</div>
<div id="n3" class="abs" style="left:299.30px;top:323.01px;font-family:var(--sans);font-size:16px;line-height:20px;color:#2e2e2e;letter-spacing:0.094px;transform:scaleX(1.08);transform-origin:0 0;">Chengjiang Li</div>
<div id="n4" class="abs" style="left:453.50px;top:323.01px;font-family:var(--sans);font-size:16px;line-height:20px;color:#2e2e2e;letter-spacing:0.223px;transform:scaleX(1.08);transform-origin:0 0;">Wei Zhang</div>
<div id="s1" class="abs" style="left:96.20px;top:320.00px;font-family:var(--sans);font-size:12px;line-height:14px;color:#2e2e2e;">a</div>
<div id="s2" class="abs" style="left:213.60px;top:320.00px;font-family:var(--sans);font-size:12px;line-height:14px;color:#2e2e2e;">a</div>
<div id="s2b" class="abs" style="left:226.70px;top:320.00px;font-family:var(--sans);font-size:12px;line-height:14px;color:#2e2e2e;">b</div>
<div id="s3" class="abs" style="left:423.40px;top:320.00px;font-family:var(--sans);font-size:12px;line-height:14px;color:#2e2e2e;">a</div>
<div id="s3c" class="abs" style="left:436.70px;top:320.00px;font-family:var(--sans);font-size:12px;line-height:14px;color:#2e2e2e;">c</div>
<div id="s4" class="abs" style="left:551.90px;top:320.00px;font-family:var(--sans);font-size:12px;line-height:14px;color:#2e2e2e;">a</div>
<div id="c1" class="abs" style="left:103.60px;top:323.01px;font-family:var(--sans);font-size:16px;line-height:20px;color:#2e2e2e;">,</div>
<div id="c2" class="abs" style="left:289.90px;top:323.01px;font-family:var(--sans);font-size:16px;line-height:20px;color:#2e2e2e;">,</div>
<div id="c3" class="abs" style="left:443.60px;top:323.01px;font-family:var(--sans);font-size:16px;line-height:20px;color:#2e2e2e;">,</div>
<div id="a1_0" class="abs" style="left:77.00px;top:375.01px;font-family:var(--sans);font-size:16px;line-height:20px;color:#707070;letter-spacing:0.233px;transform:scaleX(1.08);transform-origin:0 0;">School</div>
<div id="a1_1" class="abs" style="left:139.50px;top:375.01px;font-family:var(--sans);font-size:16px;line-height:20px;color:#707070;letter-spacing:1.297px;transform:scaleX(1.08);transform-origin:0 0;">of</div>
<div id="a1_2" class="abs" style="left:160.40px;top:375.01px;font-family:var(--sans);font-size:16px;line-height:20px;color:#707070;letter-spacing:0.518px;transform:scaleX(1.08);transform-origin:0 0;">Management,</div>
<div id="a1_3" class="abs" style="left:288.30px;top:375.01px;font-family:var(--sans);font-size:16px;line-height:20px;color:#707070;letter-spacing:0.223px;transform:scaleX(1.08);transform-origin:0 0;">Guizhou</div>
<div id="a1_4" class="abs" style="left:365.00px;top:375.01px;font-family:var(--sans);font-size:16px;line-height:20px;color:#707070;letter-spacing:0.028px;transform:scaleX(1.08);transform-origin:0 0;">University,</div>
<div id="a1_5" class="abs" style="left:460.10px;top:375.01px;font-family:var(--sans);font-size:16px;line-height:20px;color:#707070;letter-spacing:0.240px;transform:scaleX(1.08);transform-origin:0 0;">Guiyang,</div>
<div id="a1_6" class="abs" style="left:541.80px;top:375.01px;font-family:var(--sans);font-size:16px;line-height:20px;color:#707070;letter-spacing:-0.669px;transform:scaleX(1.08);transform-origin:0 0;">550025,</div>
<div id="a1_7" class="abs" style="left:610.90px;top:375.01px;font-family:var(--sans);font-size:16px;line-height:20px;color:#707070;letter-spacing:0.730px;transform:scaleX(1.08);transform-origin:0 0;">China</div>
<div id="a2_0" class="abs" style="left:76.80px;top:402.01px;font-family:var(--sans);font-size:16px;line-height:20px;color:#707070;letter-spacing:-0.437px;transform:scaleX(1.08);transform-origin:0 0;">Key</div>
<div id="a2_1" class="abs" style="left:111.60px;top:402.01px;font-family:var(--sans);font-size:16px;line-height:20px;color:#707070;letter-spacing:0.280px;transform:scaleX(1.08);transform-origin:0 0;">Laboratory</div>
<div id="a2_2" class="abs" style="left:211.70px;top:402.01px;font-family:var(--sans);font-size:16px;line-height:20px;color:#707070;letter-spacing:1.188px;transform:scaleX(1.08);transform-origin:0 0;">of</div>
<div id="a2_3" class="abs" style="left:234.00px;top:402.01px;font-family:var(--sans);font-size:16px;line-height:20px;color:#707070;letter-spacing:-0.293px;transform:scaleX(1.08);transform-origin:0 0;">“Internet+”</div>
<div id="a2_4" class="abs" style="left:336.00px;top:402.01px;font-family:var(--sans);font-size:16px;line-height:20px;color:#707070;letter-spacing:0.297px;transform:scaleX(1.08);transform-origin:0 0;">Collaborative</div>
<div id="a2_5" class="abs" style="left:458.60px;top:402.01px;font-family:var(--sans);font-size:16px;line-height:20px;color:#707070;letter-spacing:0.314px;transform:scaleX(1.08);transform-origin:0 0;">Intelligent</div>
<div id="a2_6" class="abs" style="left:553.10px;top:402.01px;font-family:var(--sans);font-size:16px;line-height:20px;color:#707070;letter-spacing:0.437px;transform:scaleX(1.08);transform-origin:0 0;">Manufacturing,</div>
<div id="a2_7" class="abs" style="left:693.80px;top:402.01px;font-family:var(--sans);font-size:16px;line-height:20px;color:#707070;letter-spacing:0.092px;transform:scaleX(1.08);transform-origin:0 0;">Guiyang</div>
<div id="a2_8" class="abs" style="left:770.50px;top:402.01px;font-family:var(--sans);font-size:16px;line-height:20px;color:#707070;letter-spacing:-0.767px;transform:scaleX(1.08);transform-origin:0 0;">550025,</div>
<div id="a3_0" class="abs" style="left:77.00px;top:429.01px;font-family:var(--sans);font-size:16px;line-height:20px;color:#707070;letter-spacing:0.404px;transform:scaleX(1.08);transform-origin:0 0;">China</div>
<div id="a4_0" class="abs" style="left:77.00px;top:456.01px;font-family:var(--sans);font-size:16px;line-height:20px;color:#707070;letter-spacing:0.285px;transform:scaleX(1.08);transform-origin:0 0;">School</div>
<div id="a4_1" class="abs" style="left:139.50px;top:456.01px;font-family:var(--sans);font-size:16px;line-height:20px;color:#707070;letter-spacing:1.181px;transform:scaleX(1.08);transform-origin:0 0;">of</div>
<div id="a4_2" class="abs" style="left:160.90px;top:456.01px;font-family:var(--sans);font-size:16px;line-height:20px;color:#707070;letter-spacing:0.107px;transform:scaleX(1.08);transform-origin:0 0;">Engineering,</div>
<div id="a4_3" class="abs" style="left:276.00px;top:456.01px;font-family:var(--sans);font-size:16px;line-height:20px;color:#707070;letter-spacing:-0.191px;transform:scaleX(1.08);transform-origin:0 0;">University</div>
<div id="a4_4" class="abs" style="left:366.00px;top:456.01px;font-family:var(--sans);font-size:16px;line-height:20px;color:#707070;letter-spacing:1.546px;transform:scaleX(1.08);transform-origin:0 0;">of</div>
<div id="a4_5" class="abs" style="left:387.70px;top:456.01px;font-family:var(--sans);font-size:16px;line-height:20px;color:#707070;letter-spacing:0.446px;transform:scaleX(1.08);transform-origin:0 0;">Tasmania,</div>
<div id="a4_6" class="abs" style="left:482.10px;top:456.01px;font-family:var(--sans);font-size:16px;line-height:20px;color:#707070;letter-spacing:0.715px;transform:scaleX(1.08);transform-origin:0 0;">Hobart,</div>
<div id="a4_7" class="abs" style="left:554.70px;top:456.01px;font-family:var(--sans);font-size:16px;line-height:20px;color:#707070;letter-spacing:-0.579px;transform:scaleX(1.08);transform-origin:0 0;">TAS7005,</div>
<div id="a4_8" class="abs" style="left:636.00px;top:456.01px;font-family:var(--sans);font-size:16px;line-height:20px;color:#707070;letter-spacing:0.212px;transform:scaleX(1.08);transform-origin:0 0;">Australia</div>
<div id="la" class="abs" style="left:54.00px;top:372.00px;font-family:var(--sans);font-size:12px;line-height:14px;color:#707070;">a</div>
<div id="lb" class="abs" style="left:54.00px;top:399.00px;font-family:var(--sans);font-size:12px;line-height:14px;color:#707070;">b</div>
<div id="lc" class="abs" style="left:55.40px;top:454.00px;font-family:var(--sans);font-size:12px;line-height:14px;color:#707070;">c</div>
</body>
</html>
